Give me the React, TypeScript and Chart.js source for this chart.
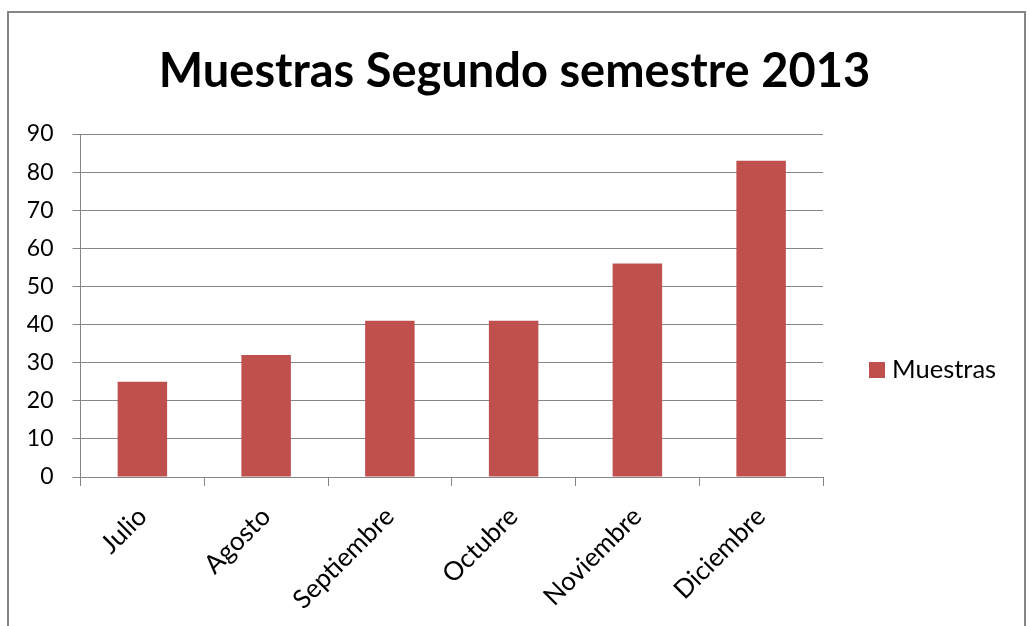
import React, { useEffect, useRef } from "react";
import { Chart, registerables } from "chart.js";

Chart.register(...registerables);

const TITLE = "Muestras Segundo semestre 2013";
const SERIES_LABEL = "Muestras";
const MONTHS = ["Julio", "Agosto", "Septiembre", "Octubre", "Noviembre", "Diciembre"];
const MUESTRAS = [25, 32, 41, 41, 56, 83];
const Y_MIN = 0;
const Y_MAX = 90;
const Y_STEP = 10;

const W = 1029;
const H = 626;
const FONT = "Lato, 'Noto Sans', sans-serif";
const GRID = "#868686";
const BAR = "#C0504D";

const legendPlugin = {
  id: "rightLegend",
  afterDraw(chart: any) {
    const ctx = chart.ctx;
    const ds = chart.data.datasets[0];
    const area = chart.chartArea;
    const sx = area.right + 46;
    const cy = 370;
    ctx.save();
    ctx.fillStyle = ds.backgroundColor;
    ctx.fillRect(sx, cy - 8, 16, 16);
    ctx.fillStyle = "#000";
    ctx.font = `25.5px ${FONT}`;
    ctx.textAlign = "left";
    ctx.textBaseline = "middle";
    ctx.fillText(ds.label, sx + 23, cy);
    ctx.restore();
  },
};

export default function App() {
  const ref = useRef<HTMLCanvasElement>(null);

  useEffect(() => {
    document.body.style.overflow = "hidden";
    const canvas = ref.current!;
    const chart = new Chart(canvas, {
      type: "bar",
      data: {
        labels: MONTHS,
        datasets: [
          {
            label: SERIES_LABEL,
            data: MUESTRAS,
            backgroundColor: BAR,
            borderWidth: 0,
            categoryPercentage: 1,
            barPercentage: 0.4,
          },
        ],
      },
      options: {
        responsive: false,
        animation: false,
        layout: { padding: 0 },
        plugins: {
          legend: { display: false },
          tooltip: { enabled: false },
          title: {
            display: true,
            text: TITLE,
            color: "#000",
            font: { family: FONT, size: 47, weight: "bold", lineHeight: 1.2 },
            padding: { top: 44, bottom: 33.6 },
          },
        },
        scales: {
          x: {
            offset: true,
            grid: {
              display: true,
              drawOnChartArea: false,
              drawTicks: true,
              tickLength: 9,
              color: GRID,
              offset: true,
            },
            border: { display: true, color: GRID, width: 1 },
            ticks: {
              color: "#000",
              font: { family: FONT, size: 26 },
              minRotation: 45,
              maxRotation: 45,
              padding: 15,
              autoSkip: false,
            },
            afterFit(scale: any) {
              scale.height = H - 477;
            },
          },
          y: {
            min: Y_MIN,
            max: Y_MAX,
            grid: {
              color: GRID,
              lineWidth: 1,
              drawTicks: true,
              tickLength: 8,
            },
            border: { display: true, color: GRID, width: 1 },
            ticks: {
              stepSize: Y_STEP,
              color: "#000",
              font: { family: FONT, size: 23 },
              padding: 19,
            },
            afterFit(scale: any) {
              scale.width = 80.5;
            },
          },
          legendSpace: {
            position: "right",
            display: true,
            grid: { display: false, drawTicks: false },
            border: { display: false },
            ticks: { display: false },
            afterFit(scale: any) {
              scale.width = W - 823;
            },
          },
        },
      },
      plugins: [legendPlugin],
    });
    return () => chart.destroy();
  }, []);

  return (
    <div
      style={{
        position: "fixed",
        left: 0,
        top: 0,
        width: W,
        height: H,
        background: "#fff",
        overflow: "hidden",
      }}
    >
      <div
        style={{
          position: "absolute",
          left: 7,
          top: 11,
          width: 1019,
          height: 700,
          boxSizing: "border-box",
          borderTop: `2px solid ${GRID}`,
          borderLeft: `2px solid ${GRID}`,
          borderRight: `2px solid ${GRID}`,
        }}
      />
      <canvas
        ref={ref}
        width={W}
        height={H}
        style={{ position: "absolute", left: 0, top: 0, width: W, height: H }}
      />
    </div>
  );
}
